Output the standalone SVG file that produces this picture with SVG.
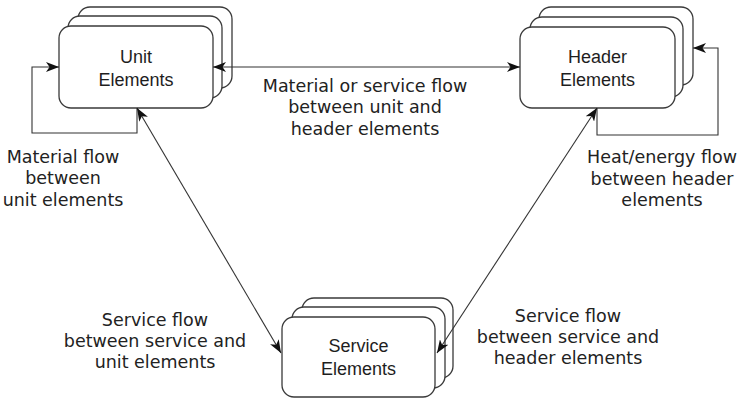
<svg xmlns="http://www.w3.org/2000/svg" width="741" height="401" viewBox="0 0 741 401">
  <style>
    .box { fill: #ffffff; stroke: #3a3a3a; stroke-width: 1.3; }
    .conn { fill: none; stroke: #333333; stroke-width: 1.1; }
    .ntext { font-family: "Liberation Sans", Arial, sans-serif; font-size: 18px; fill: #1e1e1e; text-anchor: middle; }
    .label { font-family: "DejaVu Sans", Verdana, sans-serif; font-size: 17.5px; fill: #222222; text-anchor: middle; }
  </style>
  <defs>
    <marker id="arr" viewBox="0 0 13 10" refX="13" refY="5" markerWidth="13" markerHeight="10" markerUnits="userSpaceOnUse" orient="auto-start-reverse">
      <path d="M0,0 L13,5 L0,10 L3.5,5 z" fill="#111111"/>
    </marker>
  </defs>
  <rect width="741" height="401" fill="#ffffff"/>

  <g id="unit-elements">
    <rect class="box" x="78" y="7" width="154" height="81" rx="12"/>
    <rect class="box" x="68" y="16" width="154" height="82" rx="12"/>
    <rect class="box" x="59" y="26" width="154" height="82" rx="12"/>
    <text class="ntext" x="136" y="63">Unit</text>
    <text class="ntext" x="136" y="86">Elements</text>
  </g>

  <g id="header-elements">
    <rect class="box" x="539" y="7" width="154" height="78" rx="12"/>
    <rect class="box" x="530" y="17" width="153" height="80" rx="12"/>
    <rect class="box" x="520" y="27" width="155" height="81" rx="12"/>
    <text class="ntext" x="597.5" y="63">Header</text>
    <text class="ntext" x="597.5" y="86">Elements</text>
  </g>

  <g id="service-elements">
    <rect class="box" x="302" y="298" width="151" height="80" rx="12"/>
    <rect class="box" x="292" y="307" width="153" height="81" rx="12"/>
    <rect class="box" x="282" y="317" width="153" height="80" rx="12"/>
    <text class="ntext" x="358.5" y="352">Service</text>
    <text class="ntext" x="358.5" y="375">Elements</text>
  </g>

  <g id="connectors">
    <path class="conn" d="M137,108 V133 H32 V67 H59" marker-end="url(#arr)"/>
    <path class="conn" d="M597,108 V135 H718 V48 H693" marker-end="url(#arr)"/>
    <path class="conn" d="M213,67 H520" marker-start="url(#arr)" marker-end="url(#arr)"/>
    <path class="conn" d="M137,108 L281,353" marker-start="url(#arr)" marker-end="url(#arr)"/>
    <path class="conn" d="M597,108 L437,353" marker-start="url(#arr)" marker-end="url(#arr)"/>
  </g>

  <g id="labels">
    <text class="label" x="365" y="92">Material or service flow</text>
    <text class="label" x="365" y="113">between unit and</text>
    <text class="label" x="365" y="135">header elements</text>

    <text class="label" x="63" y="163">Material flow</text>
    <text class="label" x="63" y="184">between</text>
    <text class="label" x="63" y="206">unit elements</text>

    <text class="label" x="662" y="163">Heat/energy flow</text>
    <text class="label" x="662" y="185">between header</text>
    <text class="label" x="662" y="206">elements</text>

    <text class="label" x="155" y="326">Service flow</text>
    <text class="label" x="155" y="347">between service and</text>
    <text class="label" x="155" y="368">unit elements</text>

    <text class="label" x="568" y="322">Service flow</text>
    <text class="label" x="568" y="343">between service and</text>
    <text class="label" x="568" y="364">header elements</text>
  </g>
</svg>
